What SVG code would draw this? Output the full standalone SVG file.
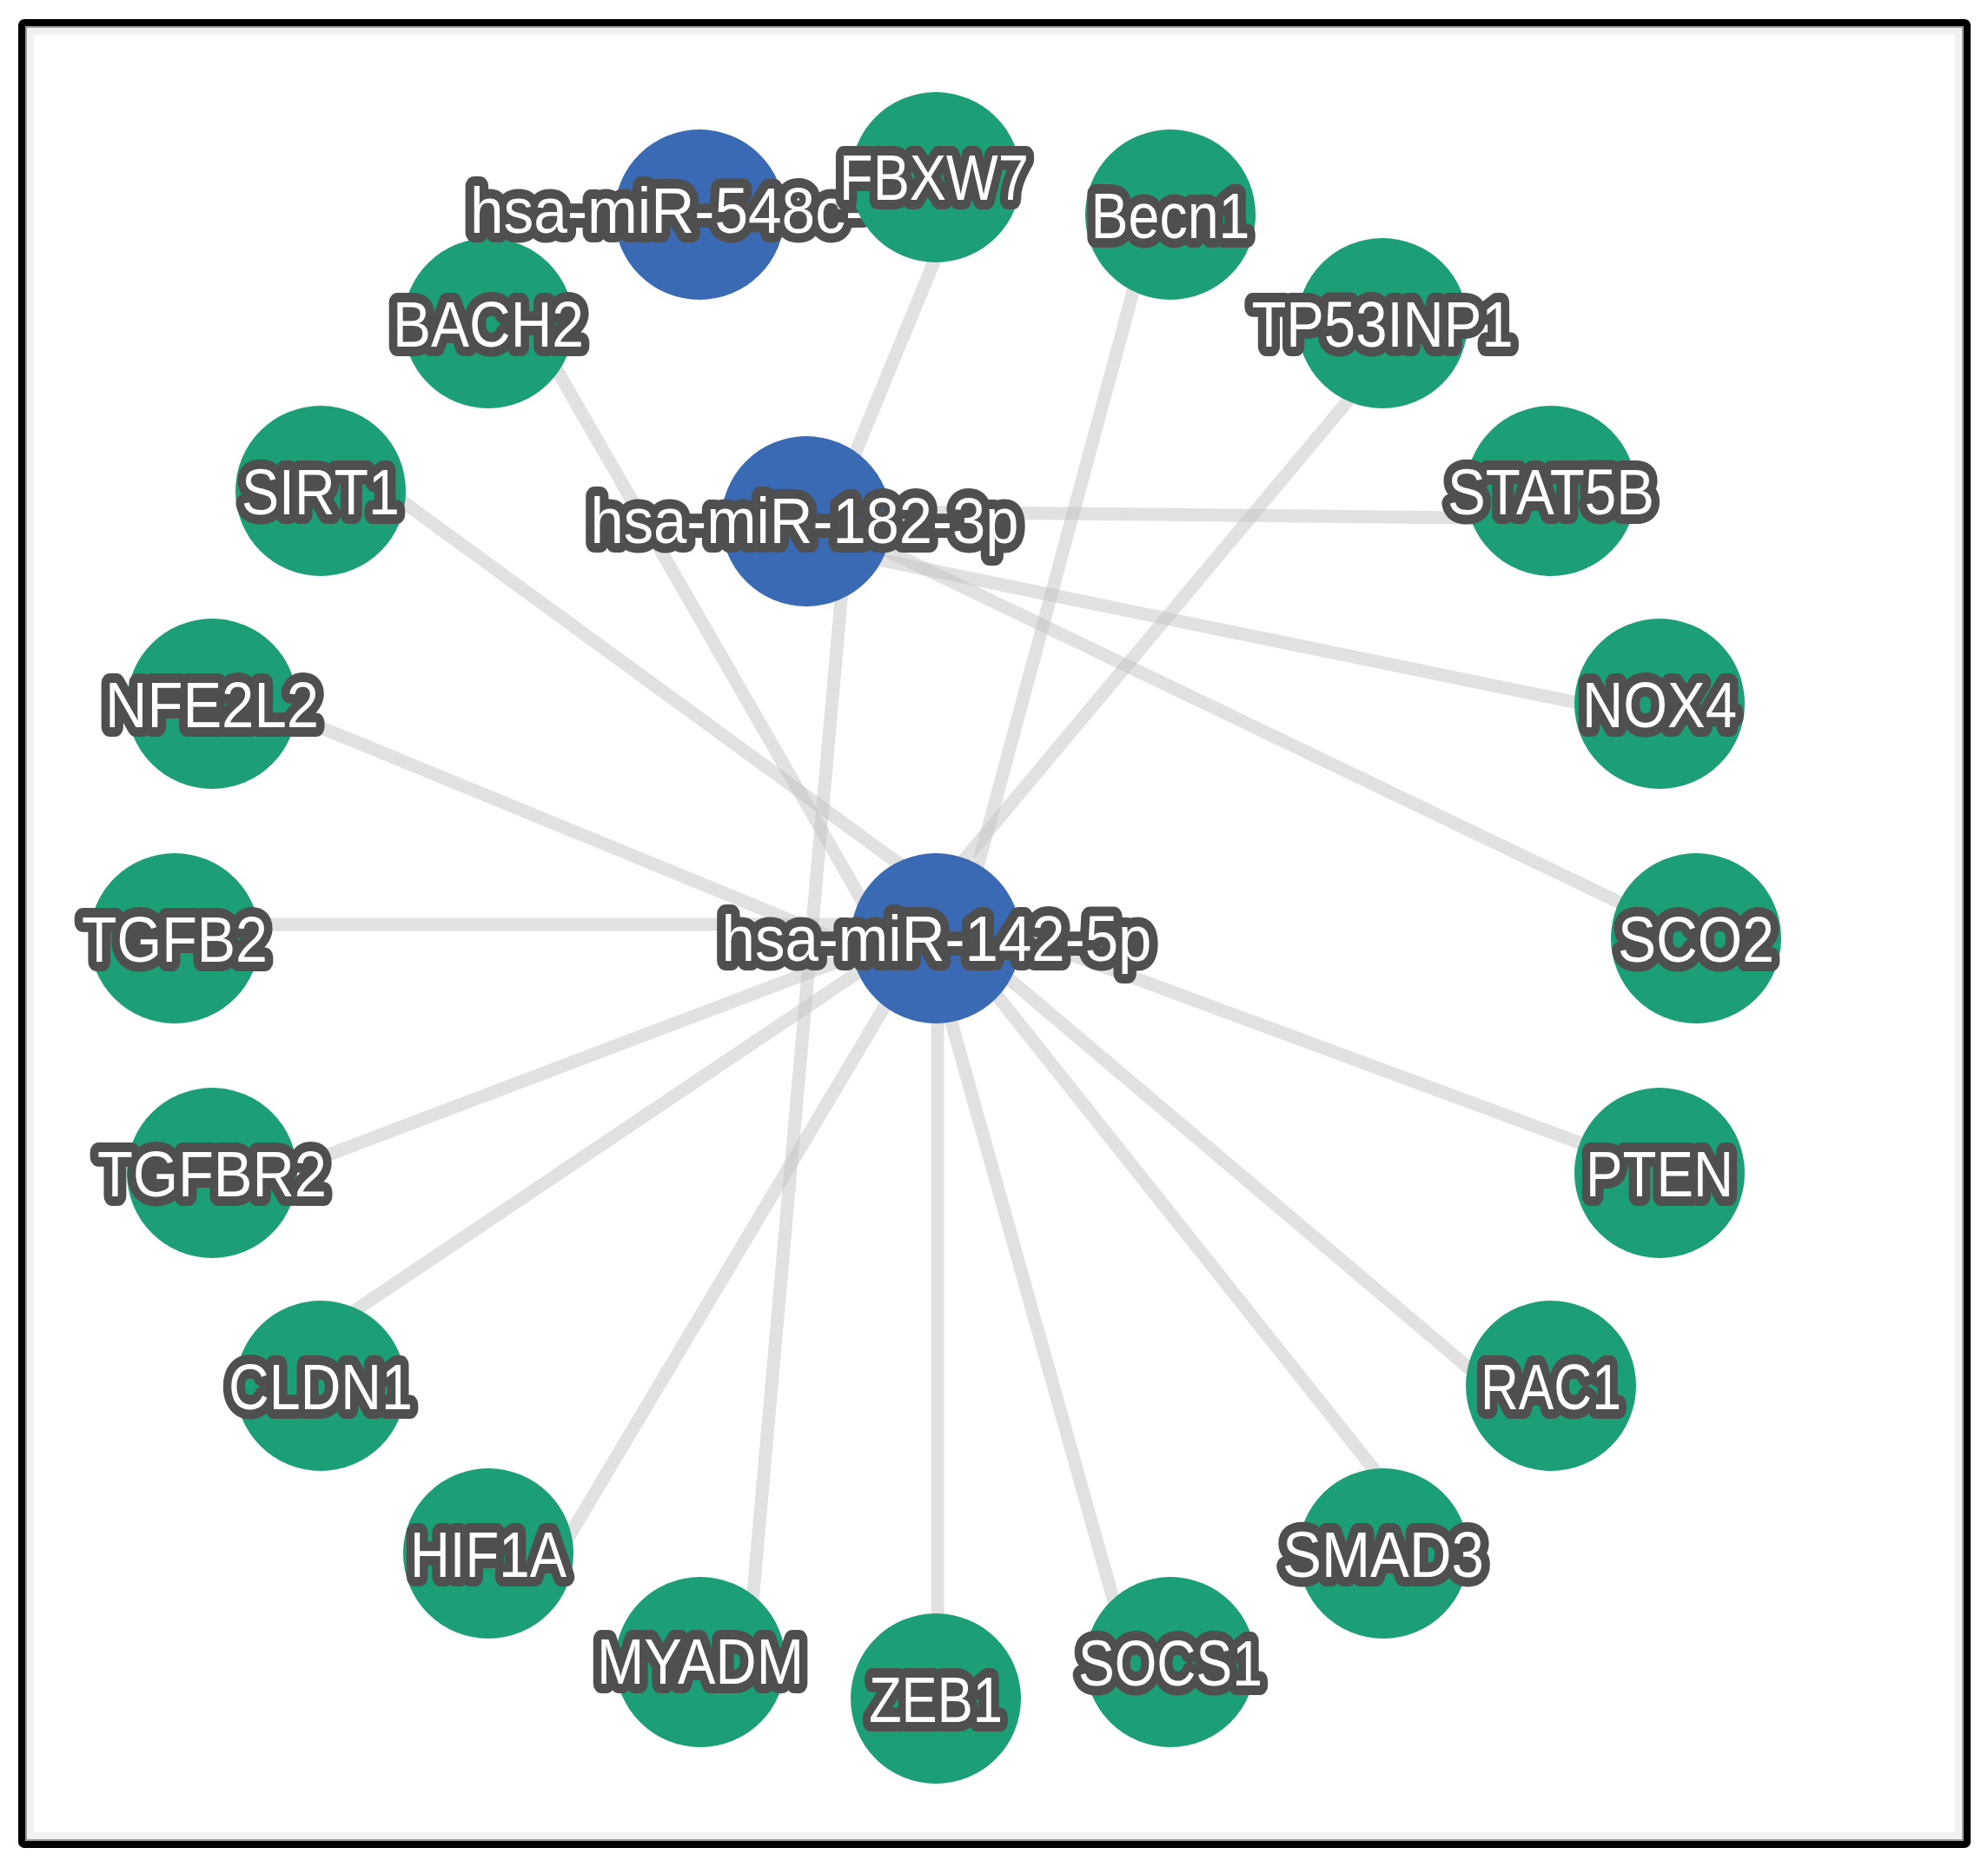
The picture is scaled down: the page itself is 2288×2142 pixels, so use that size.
<svg xmlns="http://www.w3.org/2000/svg" width="2288" height="2142" viewBox="0 0 2288 2142">
<style>
.edge{stroke:#c4c4c4;stroke-opacity:0.5;stroke-width:15;fill:none}
.gene{fill:#1c9e77}
.mir{fill:#3a6ab4}
.lbl{font-family:"Liberation Sans",Arial,sans-serif;font-size:75px;fill:#ffffff;stroke:#4f4f4f;stroke-width:22px;stroke-linejoin:round;paint-order:stroke;text-anchor:middle}
</style>
<rect x="0" y="0" width="2288" height="2142" fill="#ffffff"/>
<rect x="25" y="26" width="2239" height="2097" fill="#ffffff" stroke="#000000" stroke-width="8" rx="3"/>
<rect x="34" y="35" width="2221" height="2079" fill="none" stroke="#f1f1f1" stroke-width="10"/>
<rect x="30" y="31" width="2229" height="2087" fill="none" stroke="#9a9a9a" stroke-width="2"/>
<g id="edges">
<line class="edge" x1="1115" y1="204" x2="952" y2="600"/>
<line class="edge" x1="928" y1="588" x2="1785" y2="597"/>
<line class="edge" x1="928" y1="627" x2="1909" y2="828"/>
<line class="edge" x1="928" y1="589" x2="1952" y2="1081"/>
<line class="edge" x1="976" y1="600" x2="860" y2="1912"/>
<line class="edge" x1="610" y1="372" x2="1017" y2="1080"/>
<line class="edge" x1="400" y1="531" x2="1077" y2="1025"/>
<line class="edge" x1="244" y1="786" x2="1077" y2="1128"/>
<line class="edge" x1="201" y1="1064" x2="1077" y2="1064"/>
<line class="edge" x1="244" y1="1380" x2="1077" y2="1064"/>
<line class="edge" x1="369" y1="1535" x2="1077" y2="1059"/>
<line class="edge" x1="636" y1="1800" x2="1065" y2="1080"/>
<line class="edge" x1="1079" y1="1080" x2="1079" y2="1955"/>
<line class="edge" x1="1068" y1="1080" x2="1295" y2="1890"/>
<line class="edge" x1="1095" y1="1080" x2="1636" y2="1760"/>
<line class="edge" x1="1085" y1="1062" x2="1750" y2="1625"/>
<line class="edge" x1="1077" y1="1041" x2="1909" y2="1349"/>
<line class="edge" x1="1626" y1="372" x2="1034" y2="1080"/>
<line class="edge" x1="1328" y1="247" x2="1103" y2="1080"/>
</g>
<g id="node-hsa-miR-142-5p"><circle class="mir" cx="1077" cy="1080" r="98"/><text class="lbl" x="1078" y="1106" textLength="495" lengthAdjust="spacingAndGlyphs">hsa-miR-142-5p</text></g>
<g id="node-hsa-miR-182-3p"><circle class="mir" cx="928" cy="600" r="98"/><text class="lbl" x="926" y="625" textLength="493" lengthAdjust="spacingAndGlyphs">hsa-miR-182-3p</text></g>
<g id="node-Becn1"><circle class="gene" cx="1347" cy="247" r="98"/><text class="lbl" x="1347" y="274" textLength="183" lengthAdjust="spacingAndGlyphs">Becn1</text></g>
<g id="node-TP53INP1"><circle class="gene" cx="1591" cy="372" r="98"/><text class="lbl" x="1591" y="399" textLength="301" lengthAdjust="spacingAndGlyphs">TP53INP1</text></g>
<g id="node-STAT5B"><circle class="gene" cx="1785" cy="565" r="98"/><text class="lbl" x="1785" y="592" textLength="238" lengthAdjust="spacingAndGlyphs">STAT5B</text></g>
<g id="node-NOX4"><circle class="gene" cx="1910" cy="810" r="98"/><text class="lbl" x="1910" y="837" textLength="178" lengthAdjust="spacingAndGlyphs">NOX4</text></g>
<g id="node-SCO2"><circle class="gene" cx="1952" cy="1080" r="98"/><text class="lbl" x="1952" y="1107" textLength="180" lengthAdjust="spacingAndGlyphs">SCO2</text></g>
<g id="node-PTEN"><circle class="gene" cx="1910" cy="1350" r="98"/><text class="lbl" x="1910" y="1377" textLength="170" lengthAdjust="spacingAndGlyphs">PTEN</text></g>
<g id="node-RAC1"><circle class="gene" cx="1785" cy="1595" r="98"/><text class="lbl" x="1785" y="1622" textLength="162" lengthAdjust="spacingAndGlyphs">RAC1</text></g>
<g id="node-SMAD3"><circle class="gene" cx="1592" cy="1788" r="98"/><text class="lbl" x="1592" y="1815" textLength="232" lengthAdjust="spacingAndGlyphs">SMAD3</text></g>
<g id="node-SOCS1"><circle class="gene" cx="1347" cy="1913" r="98"/><text class="lbl" x="1347" y="1940" textLength="212" lengthAdjust="spacingAndGlyphs">SOCS1</text></g>
<g id="node-ZEB1"><circle class="gene" cx="1077" cy="1955" r="98"/><text class="lbl" x="1077" y="1982" textLength="154" lengthAdjust="spacingAndGlyphs">ZEB1</text></g>
<g id="node-MYADM"><circle class="gene" cx="806" cy="1913" r="98"/><text class="lbl" x="806" y="1938" textLength="238" lengthAdjust="spacingAndGlyphs">MYADM</text></g>
<g id="node-HIF1A"><circle class="gene" cx="562" cy="1788" r="98"/><text class="lbl" x="562" y="1815" textLength="180" lengthAdjust="spacingAndGlyphs">HIF1A</text></g>
<g id="node-CLDN1"><circle class="gene" cx="369" cy="1595" r="98"/><text class="lbl" x="369" y="1622" textLength="212" lengthAdjust="spacingAndGlyphs">CLDN1</text></g>
<g id="node-TGFBR2"><circle class="gene" cx="244" cy="1350" r="98"/><text class="lbl" x="244" y="1377" textLength="264" lengthAdjust="spacingAndGlyphs">TGFBR2</text></g>
<g id="node-TGFB2"><circle class="gene" cx="201" cy="1080" r="98"/><text class="lbl" x="201" y="1107" textLength="214" lengthAdjust="spacingAndGlyphs">TGFB2</text></g>
<g id="node-NFE2L2"><circle class="gene" cx="244" cy="810" r="98"/><text class="lbl" x="244" y="837" textLength="246" lengthAdjust="spacingAndGlyphs">NFE2L2</text></g>
<g id="node-SIRT1"><circle class="gene" cx="369" cy="565" r="98"/><text class="lbl" x="369" y="592" textLength="182" lengthAdjust="spacingAndGlyphs">SIRT1</text></g>
<g id="node-BACH2"><circle class="gene" cx="562" cy="372" r="98"/><text class="lbl" x="562" y="399" textLength="220" lengthAdjust="spacingAndGlyphs">BACH2</text></g>
<g id="node-hsa-miR-548c"><circle class="mir" cx="805" cy="247" r="98"/><text class="lbl" x="541" y="268" style="text-anchor:start" textLength="455" lengthAdjust="spacingAndGlyphs">hsa-miR-548c-</text></g>
<g id="node-FBXW7"><circle class="gene" cx="1077" cy="204" r="98"/><text class="lbl" x="1075" y="230" textLength="218" lengthAdjust="spacingAndGlyphs">FBXW7</text></g>
</svg>
